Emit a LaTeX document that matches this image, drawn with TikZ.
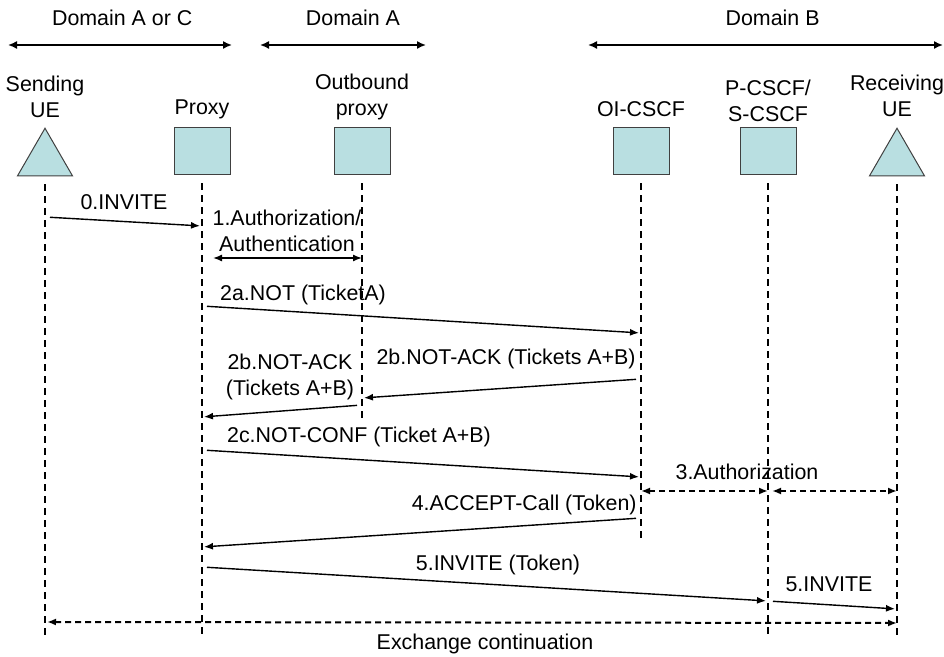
\documentclass[tikz,border=0pt]{standalone}
\usepackage{fontspec}
\setmainfont{Liberation Sans}
\usetikzlibrary{arrows.meta,shapes.geometric,positioning}
\definecolor{boxfill}{RGB}{185,223,225}

\begin{document}
\begin{tikzpicture}[x=0.5pt, y=-0.5pt, node distance=80pt,
	font=\fontsize{10.7pt}{13pt}\selectfont]
	\tikzset{BoxStyle/.style = {
			shape=rectangle, draw=black!75, fill=boxfill, line width=0.5pt,
			minimum width=28pt, minimum height=23.5pt, inner sep=0pt
	}}
	\tikzset{UEStyle/.style = {
			regular polygon, regular polygon sides=3, draw=black!75,
			fill=boxfill, line width=0.5pt, minimum size=31.75pt, inner sep=0pt
	}}
	\tikzset{NameStyle/.style = {align=center, inner sep=0pt, text depth=0.22em}}
	\tikzset{LabelStyle/.style = {align=center, inner sep=0pt}}
	\tikzset{LifeStyle/.style = {line width=0.6pt, dash pattern=on 3.5pt off 2.5pt}}
	\tikzset{MsgStyle/.style = {-{Latex[length=4.5pt,width=3.5pt]}, line width=0.7pt,
			shorten <=2.5pt, shorten >=1pt}}
	\tikzset{BothStyle/.style = {{Latex[length=4.5pt,width=3.5pt]}-{Latex[length=4.5pt,width=3.5pt]},
			line width=0.7pt}}
	\tikzset{DashBoth/.style = {BothStyle, line width=1pt, dash pattern=on 3pt off 2pt}}
	\tikzset{DomStyle/.style = {{Latex[length=4.5pt,width=4pt]}-{Latex[length=4.5pt,width=4pt]},
			line width=0.8pt}}
	\tikzset{DomLabel/.style = {above=9pt, inner sep=0pt}}

	\useasboundingbox (0,0) rectangle (944,657);

	% domains
	\coordinate (dacL) at (8,45);
	\coordinate (dacR) at (232,45);
	\coordinate (daL) at (260,45);
	\coordinate (daR) at (426,45);
	\coordinate (dbL) at (588,45);
	\coordinate (dbR) at (943,45);
	\draw[DomStyle] (dacL) -- node[DomLabel, pos=0.51] {Domain A or C} (dacR);
	\draw[DomStyle] (daL) -- node[DomLabel, pos=0.56] {Domain A} (daR);
	\draw[DomStyle] (dbL) -- node[DomLabel, pos=0.52] {Domain B} (dbR);

	% entities
	\node[UEStyle] (sue) at (45,160) {};
	\node[BoxStyle, right of=sue, node distance=78.5pt, yshift=4.25pt] (prx) {};
	\node[BoxStyle, right of=prx] (obp) {};
	\node[BoxStyle, right of=obp, node distance=139.5pt] (oic) {};
	\node[BoxStyle, right of=oic, node distance=63.5pt] (psc) {};
	\node[UEStyle, right of=psc, node distance=64.5pt, yshift=-4.25pt] (rue) {};

	\node[NameStyle, above=2.6pt of sue] (suename) {Sending\\UE};
	\node[NameStyle, above=4.2pt of prx] (prxname) {Proxy};
	\node[NameStyle, above=3.7pt of obp] (obpname) {Outbound\\proxy};
	\node[NameStyle, above=3.2pt of oic] (oicname) {OI-CSCF};
	\node[NameStyle, above=0.8pt of psc] (pscname) {P-CSCF/\\S-CSCF};
	\node[NameStyle, above=3pt of rue] (ruename) {Receiving\\UE};

	% lifelines
	\coordinate (bot) at (0,638);
	\foreach \n in {sue,prx,psc,rue}
		\draw[LifeStyle] ([yshift=-4pt]\n.south) -- (\n |- bot);
	\draw[LifeStyle] ([yshift=-4pt]obp.south) -- (obp |- 0,418);
	\draw[LifeStyle] ([yshift=-4pt]oic.south) -- (oic |- 0,538);

	% messages
	\draw[MsgStyle] (sue |- 0,217) -- (prx |- 0,226);
	\node[LabelStyle, anchor=base] (m0) at (124,210) {0.INVITE};

	\draw[BothStyle] ([xshift=5.5pt]prx |- 0,258) -- (obp |- 0,258);
	\node[LabelStyle] (m1) at (287,231) {1.Authorization/\\Authentication};

	\draw[MsgStyle] (prx |- 0,306) -- (oic |- 0,333);
	\node[LabelStyle, anchor=base] (m2a) at (303,301) {2a.NOT (TicketA)};

	\draw[MsgStyle] (oic |- 0,379) -- (obp |- 0,398);
	\node[LabelStyle, anchor=base east] (m2b) at (636,365) {2b.NOT-ACK (Tickets A+B)};

	\draw[MsgStyle] (obp |- 0,405) -- (prx |- 0,417);
	\node[LabelStyle] (m2bb) at (290,377) {2b.NOT-ACK\\(Tickets A+B)};

	\draw[MsgStyle] (prx |- 0,450) -- (oic |- 0,477);
	\node[LabelStyle, anchor=base] (m2c) at (359,443) {2c.NOT-CONF (Ticket A+B)};

	\draw[DashBoth] (oic |- 0,491) -- (psc |- 0,491);
	\draw[DashBoth] ([xshift=2pt]psc |- 0,491) -- (rue |- 0,491);
	\node[LabelStyle, anchor=base] (m3) at (747,480) {3.Authorization};

	\draw[MsgStyle] (oic |- 0,518) -- (prx |- 0,547);
	\node[LabelStyle, anchor=base east] (m4) at (637,511) {4.ACCEPT-Call (Token)};

	\draw[MsgStyle] (prx |- 0,567) -- (psc |- 0,601);
	\node[LabelStyle, anchor=base] (m5) at (498,571) {5.INVITE (Token)};

	\draw[MsgStyle] (psc |- 0,601) -- (rue |- 0,609);
	\node[LabelStyle, anchor=base] (m5b) at (829,592) {5.INVITE};

	\draw[DashBoth] ([xshift=1pt]sue |- 0,622) -- (rue |- 0,623);
	\node[LabelStyle, anchor=base] (mex) at (485,650) {Exchange continuation};
\end{tikzpicture}
\end{document}
